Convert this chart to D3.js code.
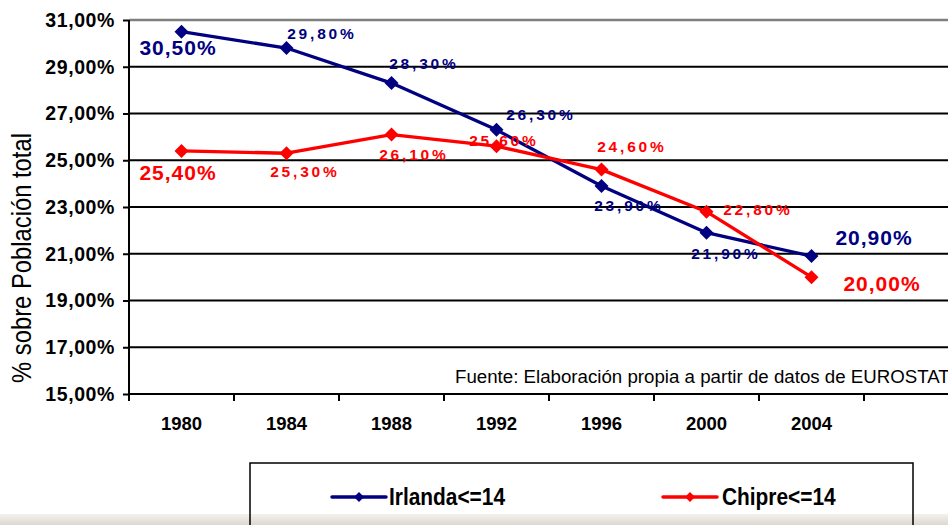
<!DOCTYPE html>
<html>
<head>
<meta charset="utf-8">
<script src="https://cdn.jsdelivr.net/npm/d3@7"></script>
<style>
  html, body { margin: 0; padding: 0; background: #fff; }
  svg { display: block; }
</style>
</head>
<body>
<div id="chart"></div>
<script>
// ---------- data ----------
const years = ["1980", "1984", "1988", "1992", "1996", "2000", "2004"];
const irlanda = [30.5, 29.8, 28.3, 26.3, 23.9, 21.9, 20.9];
const chipre = [25.4, 25.3, 26.1, 25.6, 24.6, 22.8, 20.0];
const seriesNames = ["Irlanda<=14", "Chipre<=14"];
const yTicks = [15, 17, 19, 21, 23, 25, 27, 29, 31];
const yTitle = "% sobre Población total";
const sourceNote = "Fuente: Elaboración propia a partir de datos de EUROSTAT";

// ---------- label placement (styling, not data) ----------
const irlandaLabelOffsets = [[-4, 16], [34, -15], [31, -20], [43, -15], [26, 20], [18, 21], [62, -19]];
const chipreLabelOffsets = [[-4, 22], [17, 18], [21, 20], [6, -6], [29, -23], [50, -2], [70, 6]];
const bigLabelIdx = [0, 6];

const W = 948, H = 525;
const navy = "#000080", red = "#ff0000";
const fmt = v => v.toFixed(2).replace(".", ",") + "%";

const svg = d3.select("#chart").append("svg")
  .attr("width", W).attr("height", H)
  .style("font-family", "Arial, 'Liberation Sans', sans-serif");

const x = d3.scaleBand().domain([...years, "_"]).range([129, 969]);
const y = d3.scaleLinear().domain([15, 31]).range([394, 20]);
const cx = d => x(d) + x.bandwidth() / 2;

// gridlines
svg.append("g").selectAll("line").data(yTicks.filter(t => t > 15)).join("line")
  .attr("x1", 129).attr("x2", 969)
  .attr("y1", d => y(d)).attr("y2", d => y(d))
  .attr("stroke", d => d === 31 ? "#7f7f7f" : "#000")
  .attr("stroke-width", d => d === 31 ? 2.5 : 2);

// y axis
const yAxis = d3.axisLeft(y).tickValues(yTicks).tickFormat(fmt).tickSize(6).tickPadding(8);
const gy = svg.append("g").attr("transform", "translate(129,0)").call(yAxis);
gy.select(".domain").remove();
gy.selectAll(".tick line").attr("stroke", "#000").attr("stroke-width", 2);
gy.selectAll(".tick text").attr("font-size", 19.5).attr("font-weight", "bold")
  .attr("fill", "#000").attr("letter-spacing", 0.6).attr("font-family", "Arial, 'Liberation Sans', sans-serif");
svg.append("line").attr("x1", 129).attr("x2", 129).attr("y1", y(31)).attr("y2", y(15))
  .attr("stroke", "#000").attr("stroke-width", 2);

// x axis
svg.append("line").attr("x1", 128).attr("x2", 969).attr("y1", y(15)).attr("y2", y(15))
  .attr("stroke", "#000").attr("stroke-width", 2);
const edges = x.domain().map(d => x(d)).concat([x.range()[1]]);
svg.append("g").selectAll("line").data(edges).join("line")
  .attr("x1", d => d).attr("x2", d => d).attr("y1", y(15)).attr("y2", y(15) + 7)
  .attr("stroke", "#000").attr("stroke-width", 2);
svg.append("g").selectAll("text").data(years).join("text")
  .attr("x", d => cx(d)).attr("y", 430)
  .attr("text-anchor", "middle").attr("font-size", 18.5).attr("font-weight", "bold")
  .text(d => d);

// y title
svg.append("text")
  .attr("transform", "translate(31,258) rotate(-90) scale(0.85,1)")
  .attr("text-anchor", "middle").attr("font-size", 28).attr("fill", "#000")
  .text(yTitle);

// source note
svg.append("text").attr("x", 455).attr("y", 383)
  .attr("font-size", 18.7).attr("fill", "#000").text(sourceNote);

// series
const diamond = r => `M0,${-r}L${r},0L0,${r}L${-r},0Z`;
const line = d3.line().x((v, i) => cx(years[i])).y(v => y(v));
const series = [
  { vals: irlanda, color: navy, offs: irlandaLabelOffsets },
  { vals: chipre, color: red, offs: chipreLabelOffsets }
];
series.forEach(s => {
  svg.append("path").datum(s.vals).attr("d", line)
    .attr("fill", "none").attr("stroke", s.color).attr("stroke-width", 3.3)
    .attr("stroke-linejoin", "round");
});
series.forEach(s => {
  svg.append("g").selectAll("path").data(s.vals).join("path")
    .attr("transform", (v, i) => `translate(${cx(years[i])},${y(v)})`)
    .attr("d", diamond(7)).attr("fill", s.color);
});
series.forEach(s => {
  svg.append("g").selectAll("text").data(s.vals).join("text")
    .each(function (v, i) {
      const big = bigLabelIdx.includes(i);
      const ls = big ? 1 : 2.8;
      d3.select(this)
        .attr("x", cx(years[i]) + s.offs[i][0] + ls / 2)
        .attr("y", y(v) + s.offs[i][1])
        .attr("dominant-baseline", "central")
        .attr("text-anchor", "middle")
        .attr("font-size", big ? 21 : 15.5)
        .attr("font-weight", "bold")
        .attr("letter-spacing", ls)
        .attr("fill", s.color)
        .text(fmt(v));
    });
});

// bottom window shading
const defs = svg.append("defs");
const grad = defs.append("linearGradient").attr("id", "bot").attr("x1", 0).attr("y1", 0).attr("x2", 0).attr("y2", 1);
grad.append("stop").attr("offset", "0%").attr("stop-color", "#f4f2ee");
grad.append("stop").attr("offset", "100%").attr("stop-color", "#dcd8d0");
svg.append("rect").attr("x", 0).attr("y", 514).attr("width", W).attr("height", 11).attr("fill", "url(#bot)");

// legend
svg.append("rect").attr("x", 250).attr("y", 463).attr("width", 663).attr("height", 90)
  .attr("fill", "none").attr("stroke", "#000").attr("stroke-width", 1.5);
const legendPos = [{ x1: 332, x2: 386, tx: 389 }, { x1: 663, x2: 717, tx: 722 }];
series.forEach((s, i) => {
  const p = legendPos[i];
  const g = svg.append("g");
  g.append("line").attr("x1", p.x1).attr("x2", p.x2).attr("y1", 497).attr("y2", 497)
    .attr("stroke", s.color).attr("stroke-width", 3.5).attr("stroke-linecap", "round");
  g.append("path").attr("transform", `translate(${(p.x1 + p.x2) / 2},497)`)
    .attr("d", diamond(5)).attr("fill", s.color);
  g.append("text").attr("transform", `translate(${p.tx},505) scale(0.87,1)`)
    .attr("font-size", 24).attr("font-weight", "bold").attr("fill", "#000")
    .text(seriesNames[i]);
});
</script>
</body>
</html>
